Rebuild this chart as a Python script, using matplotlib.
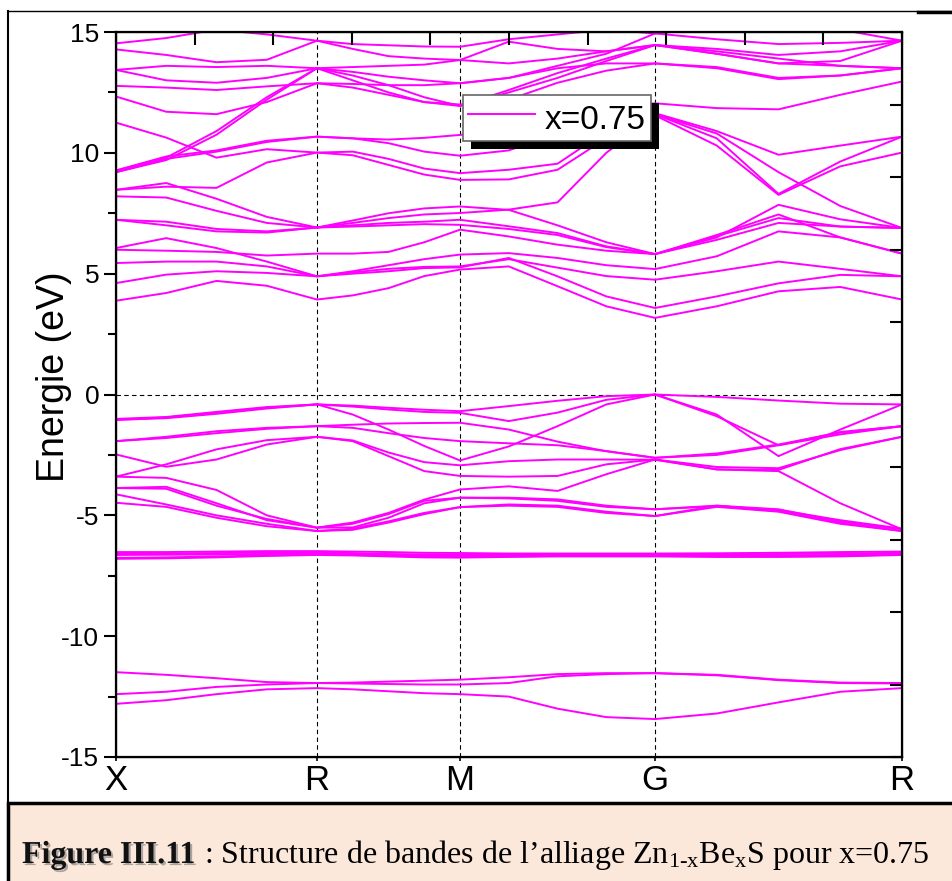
import numpy as np
import matplotlib
matplotlib.use("Agg")
import matplotlib.pyplot as plt
import matplotlib.patheffects as pe
from matplotlib.patches import Rectangle
from matplotlib.lines import Line2D
from matplotlib.transforms import IdentityTransform

plt.rcParams['font.family'] = ['Liberation Sans', 'DejaVu Sans']
plt.rcParams['mathtext.fontset'] = 'custom'
plt.rcParams['mathtext.rm'] = 'Liberation Serif'
plt.rcParams['mathtext.it'] = 'Liberation Serif'

# high symmetry points along the path (fraction of path length)
sym_labels = ['X', 'R', 'M', 'G', 'R']
sym_pos = [0.0, 0.2557, 0.4377, 0.6858, 1.0]

# energies (eV) at 17 k-samples: X, 3 between, R, 3, M, 3, G, 3, R
s_bands = [
    [-11.49, -11.60, -11.74, -11.90, -11.94, -11.92, -11.88, -11.84, -11.80, -11.70, -11.57, -11.53, -11.53, -11.60, -11.80, -11.92, -11.94],
    [-12.40, -12.30, -12.10, -12.00, -11.94, -11.96, -11.98, -12.00, -12.00, -11.94, -11.66, -11.57, -11.53, -11.62, -11.82, -11.94, -11.96],
    [-12.80, -12.65, -12.40, -12.20, -12.15, -12.20, -12.28, -12.36, -12.40, -12.50, -13.00, -13.35, -13.43, -13.20, -12.74, -12.30, -12.15],
]
d_bands = [
    [-6.52, -6.52, -6.50, -6.48, -6.48, -6.50, -6.52, -6.55, -6.56, -6.58, -6.58, -6.58, -6.58, -6.57, -6.55, -6.52, -6.50],
    [-6.58, -6.58, -6.56, -6.55, -6.54, -6.56, -6.60, -6.62, -6.62, -6.62, -6.62, -6.62, -6.62, -6.62, -6.60, -6.58, -6.55],
    [-6.64, -6.63, -6.62, -6.60, -6.58, -6.62, -6.65, -6.66, -6.66, -6.66, -6.66, -6.66, -6.66, -6.66, -6.66, -6.64, -6.60],
    [-6.76, -6.74, -6.70, -6.66, -6.62, -6.64, -6.67, -6.70, -6.72, -6.70, -6.68, -6.68, -6.68, -6.70, -6.70, -6.68, -6.62],
    [-6.80, -6.78, -6.74, -6.68, -6.64, -6.66, -6.70, -6.74, -6.75, -6.72, -6.70, -6.70, -6.70, -6.72, -6.72, -6.70, -6.64],
]
v_bands = [
    [-1.01, -0.93, -0.72, -0.52, -0.41, -0.46, -0.55, -0.63, -0.69, -0.48, -0.26, -0.07, 0.00, -0.10, -0.25, -0.38, -0.41],
    [-1.05, -0.98, -0.80, -0.58, -0.41, -0.83, -1.45, -2.13, -2.73, -2.15, -1.31, -0.41, 0.00, -0.83, -2.55, -1.45, -0.41],
    [-1.93, -1.75, -1.52, -1.38, -1.31, -1.25, -1.20, -1.18, -1.17, -1.45, -1.95, -2.35, -2.62, -2.50, -2.10, -1.65, -1.31],
    [-1.93, -1.80, -1.60, -1.42, -1.31, -1.38, -1.60, -1.80, -1.93, -2.02, -2.10, -2.34, -2.62, -2.44, -2.07, -1.58, -1.31],
    [-2.48, -2.99, -2.69, -2.07, -1.75, -1.90, -2.40, -2.80, -2.93, -2.76, -2.69, -2.69, -2.70, -3.10, -3.12, -2.26, -1.75],
    [-3.40, -2.89, -2.27, -1.89, -1.75, -1.93, -2.55, -3.17, -3.37, -3.40, -3.37, -2.89, -2.69, -3.10, -3.17, -4.50, -5.58],
    [-1.05, -0.95, -0.75, -0.55, -0.41, -0.50, -0.62, -0.72, -0.76, -1.10, -0.75, -0.22, 0.00, -0.90, -2.10, -1.55, -1.31],
    [-3.40, -3.45, -3.95, -5.00, -5.51, -5.30, -4.90, -4.35, -3.93, -3.80, -3.99, -3.30, -2.69, -3.00, -3.05, -2.30, -1.75],
    [-3.87, -3.82, -4.50, -5.20, -5.51, -5.50, -5.10, -4.50, -4.27, -4.27, -4.34, -4.60, -4.75, -4.60, -4.75, -5.25, -5.58],
    [-4.13, -4.55, -5.00, -5.35, -5.65, -5.55, -5.25, -4.90, -4.66, -4.55, -4.60, -4.85, -5.03, -4.60, -4.82, -5.30, -5.65],
    [-4.48, -4.65, -5.10, -5.45, -5.65, -5.60, -5.30, -4.95, -4.66, -4.60, -4.65, -4.90, -5.03, -4.65, -4.85, -5.35, -5.65],
    [-3.87, -3.90, -4.60, -5.15, -5.51, -5.35, -4.95, -4.40, -4.27, -4.30, -4.40, -4.65, -4.75, -4.62, -4.78, -5.20, -5.55],
]
c_bands = [
    [3.88, 4.20, 4.70, 4.50, 3.93, 4.10, 4.40, 4.90, 5.17, 5.30, 4.48, 3.65, 3.17, 3.65, 4.27, 4.45, 3.93],
    [4.61, 4.96, 5.10, 5.03, 4.89, 5.00, 5.10, 5.23, 5.26, 5.65, 4.89, 4.06, 3.58, 4.06, 4.60, 4.95, 4.89],
    [5.44, 5.50, 5.50, 5.30, 4.89, 5.05, 5.20, 5.28, 5.30, 5.60, 5.25, 4.90, 4.75, 5.10, 5.50, 5.20, 4.89],
    [6.06, 6.47, 6.06, 5.50, 4.89, 5.10, 5.35, 5.60, 5.79, 5.85, 5.65, 5.35, 5.19, 5.72, 6.75, 6.50, 5.83],
    [5.99, 5.95, 5.90, 5.75, 5.83, 5.83, 5.90, 6.30, 6.82, 6.54, 6.20, 5.95, 5.81, 6.60, 7.45, 6.50, 5.83],
    [7.23, 7.15, 6.85, 6.75, 6.91, 6.95, 7.00, 7.05, 7.02, 6.85, 6.60, 6.10, 5.81, 6.50, 7.85, 7.25, 6.89],
    [7.23, 7.00, 6.75, 6.70, 6.91, 7.00, 7.10, 7.15, 7.23, 6.96, 6.68, 6.13, 5.81, 6.40, 7.10, 6.95, 6.89],
    [8.20, 8.15, 7.60, 7.10, 6.91, 7.10, 7.30, 7.45, 7.51, 7.65, 7.95, 10.00, 11.55, 10.30, 8.26, 9.44, 10.01],
    [8.47, 8.75, 8.10, 7.35, 6.91, 7.20, 7.50, 7.70, 7.78, 7.64, 7.00, 6.30, 5.81, 6.55, 7.30, 6.95, 6.89],
    [8.47, 8.60, 8.55, 9.60, 10.01, 9.90, 9.50, 9.10, 8.88, 8.90, 9.30, 10.60, 11.60, 10.60, 8.30, 9.64, 10.67],
    [9.27, 9.85, 10.10, 10.50, 10.67, 10.60, 10.40, 10.05, 9.88, 10.10, 10.80, 11.30, 11.64, 10.90, 9.92, 10.30, 10.67],
    [11.25, 10.63, 9.80, 10.15, 10.01, 10.05, 9.75, 9.35, 9.16, 9.30, 9.55, 10.90, 11.60, 10.80, 9.20, 7.80, 6.89],
    [9.20, 9.75, 10.05, 10.45, 10.67, 10.60, 10.55, 10.62, 10.74, 11.00, 11.50, 11.90, 12.05, 11.85, 11.80, 12.40, 12.95],
    [9.27, 9.80, 10.90, 12.30, 13.50, 13.20, 12.80, 12.30, 11.94, 12.50, 13.10, 13.80, 14.46, 14.10, 13.70, 13.60, 13.50],
    [9.20, 9.70, 10.75, 12.20, 13.50, 13.35, 13.15, 13.00, 12.88, 13.10, 13.50, 13.70, 13.70, 13.55, 13.10, 13.20, 13.50],
    [14.53, 14.75, 15.10, 14.90, 14.64, 14.50, 14.45, 14.40, 14.39, 14.70, 14.90, 15.10, 14.94, 14.70, 14.50, 14.55, 14.64],
    [14.28, 14.05, 13.75, 13.85, 14.64, 14.30, 14.00, 13.90, 13.84, 14.60, 14.30, 14.20, 14.46, 14.10, 13.70, 13.80, 14.64],
    [13.43, 13.60, 13.55, 13.60, 13.50, 13.55, 13.60, 13.65, 13.84, 13.70, 13.90, 14.20, 14.46, 14.30, 14.05, 14.20, 14.64],
    [13.43, 13.00, 12.90, 13.10, 13.50, 13.00, 12.50, 12.10, 12.00, 12.20, 12.90, 13.40, 13.70, 13.50, 13.05, 13.20, 13.50],
    [12.77, 12.70, 12.60, 12.75, 12.88, 12.85, 12.80, 12.80, 12.88, 13.10, 13.60, 14.10, 14.94, 15.20, 15.30, 15.10, 14.64],
    [12.33, 11.70, 11.60, 12.10, 12.88, 12.70, 12.40, 12.10, 11.94, 12.60, 13.30, 13.90, 14.46, 14.20, 13.90, 13.60, 13.50],
]
legend_label = 'x=0.75'

# k grid: 4 equal steps on each segment
k = [sym_pos[0]]
for a, b in zip(sym_pos[:-1], sym_pos[1:]):
    k += list(np.linspace(a, b, 5)[1:])
k = np.array(k)

W, H = 953, 881
fig = plt.figure(figsize=(W / 100, H / 100), dpi=100)
ax = fig.add_axes([116 / W, 124 / H, 786 / W, 725 / H])

col = '#ff00ff'
line = None
for band in s_bands + d_bands + v_bands + c_bands:
    line, = ax.plot(k, band, color=col, lw=1.4, zorder=2)

ax.set_xlim(0, 1)
ax.set_ylim(-15, 15)
for p in sym_pos[1:-1]:
    ax.axvline(p, color='k', ls=(0, (4, 3)), lw=0.8, zorder=1)
ax.axhline(0, color='k', ls=(0, (4, 3)), lw=0.8, zorder=1)

ax.set_xticks(sym_pos)
ax.set_xticklabels(sym_labels, fontsize=25)
ax.set_yticks(np.arange(-15, 16, 5))
ax.set_yticklabels([str(v) for v in range(-15, 16, 5)], fontsize=19)
ax.set_yticks(np.arange(-12.5, 15, 5), minor=True)
ax.tick_params(axis='x', direction='out', length=3, width=1.2, pad=2)
ax.tick_params(axis='y', which='major', direction='out', length=9, width=1.5, pad=3)
ax.tick_params(axis='y', which='minor', direction='out', length=6, width=1.5)
ax.set_ylabel('Energie (eV)', fontsize=27)
ax.yaxis.set_label_coords(-0.056, 0.525)
for s in ax.spines.values():
    s.set_linewidth(1.6)

axt = ax.twiny()
axt.set_xlim(0, 1)
axt.set_xticks(np.linspace(0, 1, 11))
axt.tick_params(axis='x', direction='in', length=9, width=1.5, labeltop=False)
axr = ax.twinx()
axr.set_ylim(-15, 15)
axr.set_yticks(np.arange(-15, 16, 3))
axr.tick_params(axis='y', direction='in', length=9, width=1.5, labelright=False)

leg = ax.legend([line], [legend_label], loc='upper left', bbox_to_anchor=(0.4415, 0.9131),
                frameon=True, fancybox=False, framealpha=1, edgecolor='#666666',
                fontsize=24, handlelength=2.0, handleheight=1.25, handletextpad=0.3,
                borderpad=0.15, borderaxespad=0)
leg.get_frame().set_linewidth(1.2)
leg.set_zorder(6)

# frame and caption box
fig.add_artist(Line2D([8 / W, 8 / W], [0, 870 / H], color='k', lw=1.5))
fig.add_artist(Line2D([8 / W, 1], [870 / H, 870 / H], color='k', lw=1.0))
fig.add_artist(Line2D([918 / W, 1], [869 / H, 869 / H], color='k', lw=2.5))
fig.add_artist(Rectangle((8 / W, -0.01), 1, 87 / H, transform=fig.transFigure,
                         facecolor='#fce8da', edgecolor='k', lw=2.5))

t1 = fig.text(22 / W, 18 / H, 'Figure III.11', fontsize=23, fontweight='bold',
              family='Liberation Serif', va='baseline', color='#111111',
              path_effects=[pe.withSimplePatchShadow(offset=(1.5, -1.5), shadow_rgbFace='#888888', alpha=0.7)])
fig.canvas.draw()
bb = t1.get_window_extent()
fig.text(bb.x1 / W, 18 / H,
         r' : Structure de bandes de l’alliage Zn$_{\mathrm{1\text{-}x}}$Be$_{\mathrm{x}}$S pour x=0.75',
         fontsize=23, family='Liberation Serif', va='baseline', color='k')

# legend shadow
fig.canvas.draw()
lb = leg.get_window_extent()
ax.add_patch(Rectangle((lb.x0 + 8, lb.y0 - 8), lb.width, lb.height, transform=IdentityTransform(),
                       facecolor='k', edgecolor='none', zorder=5.5, clip_on=False))

fig.savefig('out.png', dpi=100)
